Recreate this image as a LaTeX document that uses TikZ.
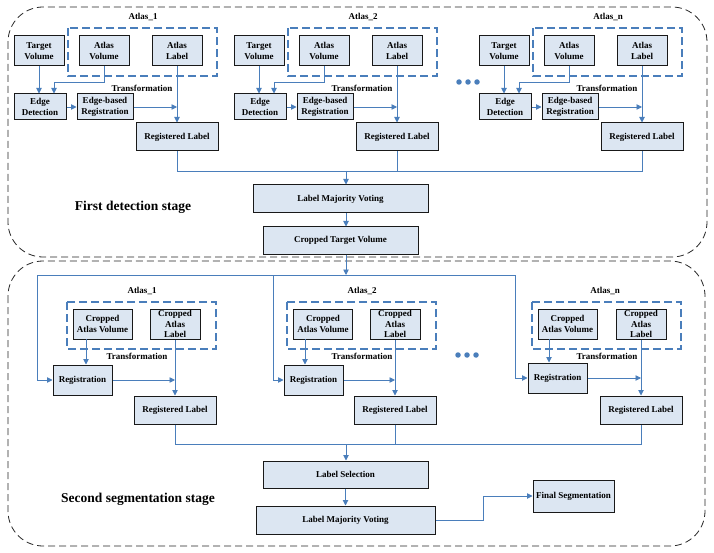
\documentclass[tikz,border=0pt]{standalone}
\usepackage{fontspec}
\setmainfont{Liberation Serif}
\usetikzlibrary{arrows.meta,calc}
\definecolor{ablue}{RGB}{74,126,187}
\definecolor{bfill}{RGB}{220,230,242}
\tikzset{
  box/.style={draw=black!90, line width=1pt, fill=bfill, inner sep=0pt, align=center, font=\bfseries\fontsize{9}{11}\selectfont},
  lbl/.style={inner sep=0pt, font=\bfseries\fontsize{9}{11}\selectfont},
  stagelbl/.style={inner sep=0pt, font=\bfseries\fontsize{13.5}{16}\selectfont},
  conn/.style={draw=ablue, line width=0.9pt},
  arr/.style={conn, -{Triangle[length=5.5pt,width=5.5pt]}},
  grp/.style={draw=ablue, line width=1.4pt, dash pattern=on 8pt off 4pt},
  stage/.style={draw=black!85, line width=0.8pt, dash pattern=on 7pt off 4pt, rounded corners=35pt},
  dot/.style={circle, fill=ablue, inner sep=0pt, minimum size=5.5pt},
}
\begin{document}
\begin{tikzpicture}[x=1pt,y=-1pt]
\useasboundingbox (0,0) rectangle (714,553);
% stage frames
\draw[stage] (8,7) rectangle (707,257);
\draw[stage] (8,261) rectangle (705,546);

% ---------- first stage ----------
\foreach \o/\n in {0/1,220/2,465/n} {
  \node[lbl] (at\n) at (143+\o,17) {Atlas\_\n};
  \draw[grp] (68+\o,28) rectangle (217+\o,76);
  \node[box, minimum width=50pt, minimum height=30pt] (tv\n) at (39+\o,51) {Target\\Volume};
  \node[box, minimum width=50pt, minimum height=30pt] (av\n) at (104+\o,51) {Atlas\\Volume};
  \node[box, minimum width=50pt, minimum height=30pt] (al\n) at (177+\o,51) {Atlas\\Label};
  \node[box, minimum width=52pt, minimum height=26pt] (ed\n) at (40+\o,107) {Edge\\Detection};
  \node[box, minimum width=56pt, minimum height=26pt] (er\n) at (105+\o,107) {Edge-based\\Registration};
  \node[lbl] (tf\n) at (142+\o,88) {Transformation};
  \node[box, minimum width=82pt, minimum height=28pt] (rl\n) at (177+\o,137) {Registered Label};
  \coordinate (k\n) at (54+\o,82);
  \draw[arr] (tv\n) -- (tv\n |- ed\n.north);
  \draw[arr] (av\n.south) |- (k\n) -- (k\n |- ed\n.north);
  \draw[arr] (ed\n) -- (er\n);
  \draw[arr] (er\n) -- (er\n -| al\n);
  \draw[arr] (al\n) -- (rl\n);
}
\node[dot] (d1) at (459,82) {};
\node[dot] (d2) at (468,82) {};
\node[dot] (d3) at (477,82) {};

\coordinate (m) at (346,171);
\node[box, minimum width=175pt, minimum height=28pt] (lmv) at (340.5,199) {Label Majority Voting};
\node[box, minimum width=155pt, minimum height=27pt] (ctv) at (340.5,240.5) {Cropped Target Volume};
\draw[conn] (rl1.south) -- (rl1.south |- m) -- (rln.south |- m) -- (rln.south);
\draw[conn] (rl2.south) -- (rl2.south |- m);
\draw[arr] (m) -- (m |- lmv.north);
\draw[arr] (lmv.south -| m) -- (ctv.north -| m);
\node[stagelbl] (s1) at (133,207) {First detection stage};

% ---------- second stage ----------
\coordinate (t) at (346,275);
\coordinate (tl) at (37,275);
\coordinate (tm) at (273,275);
\coordinate (tr) at (515,275);
\draw[arr] (ctv.south -| t) -- (t);
\draw[conn] (tl) -- (tr);

\foreach \n/\ax/\dx/\cvx/\clx/\tfx/\rgx/\rgy/\rlx/\arx in
  {1/142/67/102.5/175/137/82.5/380/175/86,
   2/362/287/323/395/362/313.5/380/395/305,
   n/605/532/567.5/641/607/557.5/378/641/549} {
  \node[lbl] (bt\n) at (\ax,291) {Atlas\_\n};
  \draw[grp] (\dx,302) rectangle (\dx+149,349);
  \node[box, minimum width=59pt, minimum height=30pt] (cav\n) at (\cvx,324) {Cropped\\Atlas Volume};
  \node[box, minimum width=50pt, minimum height=30pt, font=\bfseries\fontsize{9}{10.5}\selectfont] (cal\n) at (\clx,324) {Cropped\\Atlas\\Label};
  \node[lbl] (btf\n) at (\tfx,356) {Transformation};
  \node[box, minimum width=59pt, minimum height=30pt] (reg\n) at (\rgx,\rgy) {Registration};
  \node[box, minimum width=82pt, minimum height=28pt] (brl\n) at (\rlx,410) {Registered Label};
  \coordinate (p\n) at (\arx,339);
  \draw[arr] (p\n) -- (p\n |- reg\n.north);
  \draw[arr] (reg\n) -- (reg\n -| cal\n);
  \draw[arr] (cal\n) -- (brl\n);
}
\draw[arr] (tl) |- (reg1);
\draw[arr] (tm) |- (reg2);
\draw[arr] (tr) |- (regn);

\node[dot] (e1) at (458,355) {};
\node[dot] (e2) at (467,355) {};
\node[dot] (e3) at (476,355) {};

\coordinate (b) at (346,444);
\node[box, minimum width=165pt, minimum height=27pt] (ls) at (345.5,474.5) {Label Selection};
\node[box, minimum width=179pt, minimum height=28pt] (lmv2) at (345.5,520) {Label Majority Voting};
\node[box, minimum width=81pt, minimum height=32pt] (fs) at (573.5,496) {Final Segmentation};
\draw[conn] (brl1.south) -- (brl1.south |- b) -- (brln.south |- b) -- (brln.south);
\draw[conn] (brl2.south) -- (brl2.south |- b);
\draw[arr] (b) -- (b |- ls.north);
\draw[arr] (ls) -- (lmv2);
\coordinate (f) at (483,496);
\draw[arr] (lmv2.east) -| (f) -- (fs);
\node[stagelbl] (s2) at (138,499) {Second segmentation stage};
\end{tikzpicture}
\end{document}
